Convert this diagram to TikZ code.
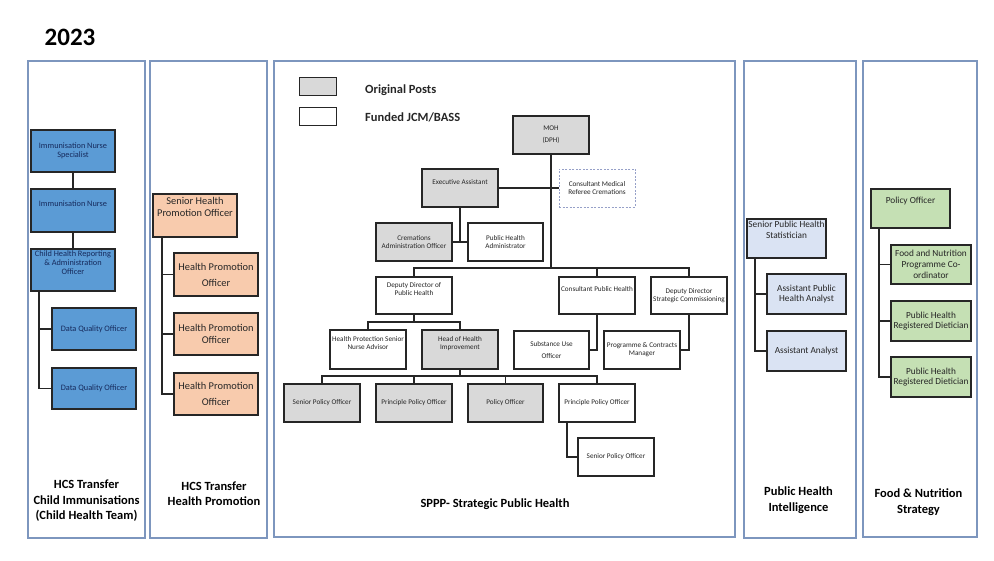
\documentclass[tikz,border=0pt]{standalone}
\usepackage{fontspec}
\setmainfont{Carlito}
\definecolor{pborder}{RGB}{125,150,190}
\definecolor{iblue}{RGB}{91,155,213}
\definecolor{peach}{RGB}{248,203,173}
\definecolor{pgrey}{RGB}{217,217,217}
\definecolor{lblue}{RGB}{218,227,243}
\definecolor{lgreen}{RGB}{197,224,180}
\definecolor{navy}{RGB}{22,42,92}
\definecolor{dashc}{RGB}{150,160,200}
\definecolor{ink}{RGB}{38,38,38}
\newcommand\fsA{\fontsize{8.3}{9.2}\selectfont}
\newcommand\fsB{\fontsize{10.4}{11.5}\selectfont}
\newcommand\fsC{\fontsize{7.2}{8}\selectfont}
\newcommand\fsD{\fontsize{9.3}{10.8}\selectfont}
\newcommand\fsL{\fontsize{12.5}{15.5}\selectfont\bfseries}
\newcommand\fsLg{\fontsize{12.5}{14}\selectfont\bfseries}
\newcommand\fsT{\fontsize{25}{28}\selectfont\bfseries}
\newcommand\bx[7]{\node[#6,minimum width={(#4-#2)*1pt},minimum height={(#5-#3)*1pt}] (#1) at ({(#2+#4)/2},{(#3+#5)/2}) {#7};}
\begin{document}
\begin{tikzpicture}[x=1pt,y=-1pt,
  panel/.style={draw=pborder,line width=1.3pt,fill=white,inner sep=0pt,outer sep=0pt},
  box/.style={draw=ink,line width=1.2pt,inner sep=0.5pt,outer sep=0pt,align=center,text=ink},
  b1/.style={box,fill=iblue,text=navy,font=\fsA},
  b2/.style={box,fill=peach,font=\fsB},
  b3g/.style={box,fill=pgrey,font=\fsC},
  b3w/.style={box,fill=white,font=\fsC},
  b4/.style={box,fill=lblue,font=\fsD},
  b5/.style={box,fill=lgreen,font=\fsD},
  tl/.style={anchor=north,align=center,inner sep=0pt,text=ink},
  conn/.style={draw=ink,line width=1.2pt},
  plabel/.style={font=\fsL,align=center,text=black}]
\fill[white] (0,0) rectangle (994,561);
\useasboundingbox (0,0) rectangle (994,561);

% panels
\bx{p1}{28}{61}{145}{538}{panel}{}
\bx{p2}{150}{61}{267}{538}{panel}{}
\bx{p3}{274}{61}{735}{537}{panel}{}
\bx{p4}{744}{61}{856}{538}{panel}{}
\bx{p5}{863}{61}{977}{537}{panel}{}

\node[font=\fsT] (title) at (70,37) {2023};

% panel 1
\bx{ins}{31}{130}{115}{172}{b1}{Immunisation Nurse\\Specialist}
\bx{in}{31}{189}{115}{232}{b1,label={[tl,font=\fsA,text=navy,yshift=-11.5pt]north:Immunisation Nurse}}{}
\bx{chr}{31}{249}{115}{291}{b1,label={[tl,font=\fsA,text=navy,yshift=-1.5pt]north:Child Health Reporting\\\& Administration\\Officer}}{}
\bx{dq1}{52}{308}{136}{350}{b1}{Data Quality Officer}
\bx{dq2}{52}{368}{136}{409}{b1}{Data Quality Officer}
\draw[conn] (ins) -- (in);
\draw[conn] (in) -- (chr);
\coordinate (v1) at ([xshift=8pt]chr.south west);
\draw[conn] (v1) |- (dq2.west);
\draw[conn] (v1 |- dq1.west) -- (dq1.west);

% panel 2
\bx{shpo}{153}{194}{237}{237}{b2,label={[tl,font=\fsB,yshift=-3.5pt]north:Senior Health\\Promotion Officer}}{}
\bx{hpo1}{174}{253}{258}{296}{b2}{Health Promotion\\[4.5pt]Officer}
\bx{hpo2}{174}{313}{258}{355}{b2}{Health Promotion\\Officer}
\bx{hpo3}{174}{373}{258}{415}{b2}{Health Promotion\\[4.5pt]Officer}
\coordinate (v2) at ([xshift=9pt]shpo.south west);
\draw[conn] (v2) |- (hpo3.west);
\draw[conn] (v2 |- hpo1.west) -- (hpo1.west);
\draw[conn] (v2 |- hpo2.west) -- (hpo2.west);

% panel 3 legend
\bx{lg}{299}{78}{336}{96}{box,fill=pgrey,line width=1pt}{}
\bx{lw}{299}{108}{336}{126}{box,fill=white,line width=1pt}{}
\node[font=\fsLg,anchor=west,text=ink,inner sep=0pt] (lgt) at (365,90) {Original Posts};
\node[font=\fsLg,anchor=west,text=ink,inner sep=0pt] (lwt) at (365,117) {Funded JCM/BASS};

% panel 3 chart
\bx{moh}{513}{116}{589}{154}{b3g}{MOH\\[4pt](DPH)}
\bx{ea}{422}{169}{498}{207}{b3g,label={[tl,font=\fsC,yshift=-10.5pt]north:Executive Assistant}}{}
\bx{cmrc}{559}{169}{635}{207}{box,draw=dashc,dash pattern=on 2pt off 1.5pt,line width=0.7pt,fill=white,font=\fsC}{Consultant Medical\\Referee Cremations}
\bx{cao}{376}{223}{452}{261}{b3g}{Cremations\\Administration Officer}
\bx{pha}{468}{223}{543}{261}{b3w}{Public Health\\Administrator}
\bx{ddph}{376}{277}{452}{314}{b3w,label={[tl,font=\fsC,yshift=-5.5pt]north:Deputy Director of\\Public Health}}{}
\bx{cph}{559}{277}{635}{314}{b3w,label={[tl,font=\fsC,yshift=-9.5pt]north:Consultant Public Health}}{}
\bx{ddsc}{651}{277}{727}{314}{b3w}{Deputy Director\\Strategic Commissioning}
\bx{hpsna}{330}{330}{406}{369}{b3w,label={[tl,font=\fsC,yshift=-6.5pt]north:Health Protection Senior\\Nurse Advisor}}{}
\bx{hohi}{422}{330}{498}{369}{b3g,label={[tl,font=\fsC,yshift=-6.5pt]north:Head of Health\\Improvement}}{}
\bx{suo}{514}{331}{589}{369}{b3w}{Substance Use\\[4pt]Officer}
\bx{pcm}{604}{331}{680}{369}{b3w}{Programme \& Contracts\\Manager}
\bx{spo1}{284}{384}{360}{422}{b3g}{Senior Policy Officer}
\bx{ppo1}{376}{384}{452}{422}{b3g}{Principle Policy Officer}
\bx{po}{468}{384}{543}{422}{b3g}{Policy Officer}
\bx{ppo2}{559}{384}{635}{422}{b3w}{Principle Policy Officer}
\bx{spo2}{578}{438}{654}{476}{b3w}{Senior Policy Officer}

\coordinate (bar) at ([yshift=9pt]ddph.north);
\draw[conn] (moh.south) -- (moh.south |- bar);
\draw[conn] (ea.east) -- (cmrc.west);
\draw[conn] (ea.south) -- (ea.south |- cao.east);
\draw[conn] (cao.east) -- (pha.west);
\draw[conn] (ddph.north) -- (bar) -| (ddsc.north);
\draw[conn] (cph.north) -- (cph.north |- bar);
\coordinate (j2) at ([yshift=8pt]hpsna.north);
\draw[conn] (ddph.south) -- (ddph.south |- j2);
\draw[conn] (hpsna.north) -- (j2) -| (hohi.north);
\coordinate (j3) at ([yshift=8pt]spo1.north);
\draw[conn] (hohi.south) -- (hohi.south |- j3);
\draw[conn] (spo1.north) -- (j3) -| (ppo2.north);
\draw[conn] (ppo1.north) -- (ppo1.north |- j3);
\draw[conn] (po.north) -- (po.north |- j3);
\draw[conn] (cph.south) |- (suo.east);
\draw[conn] (ddsc.south) |- (pcm.east);
\coordinate (v3) at ([xshift=8pt]ppo2.south west);
\draw[conn] (v3) |- (spo2.west);

% panel 4
\bx{sphs}{747}{219}{826}{258}{b4,label={[tl,font=\fsD,yshift=-2pt]north:Senior Public Health\\Statistician}}{}
\bx{apha}{767}{274}{846}{314}{b4}{Assistant Public\\Health Analyst}
\bx{aa}{767}{331}{846}{371}{b4}{Assistant Analyst}
\coordinate (v4) at ([xshift=8pt]sphs.south west);
\draw[conn] (v4) |- (aa.west);
\draw[conn] (v4 |- apha.west) -- (apha.west);

% panel 5
\bx{pof}{871}{189}{950}{228}{b5,label={[tl,font=\fsD,yshift=-7.5pt]north:Policy Officer}}{}
\bx{fnpc}{891}{245}{971}{284}{b5}{Food and Nutrition\\Programme Co-\\ordinator}
\bx{phrd1}{891}{301}{971}{341}{b5}{Public Health\\Registered Dietician}
\bx{phrd2}{891}{357}{971}{397}{b5}{Public Health\\Registered Dietician}
\coordinate (v5) at ([xshift=8pt]pof.south west);
\draw[conn] (v5) |- (phrd2.west);
\draw[conn] (v5 |- fnpc.west) -- (fnpc.west);
\draw[conn] (v5 |- phrd1.west) -- (phrd1.west);

% panel labels
\node[plabel] (l1) at (86.5,501) {HCS Transfer\\Child Immunisations\\(Child Health Team)};
\node[plabel] (l2) at (214,493.5) {HCS Transfer\\Health Promotion};
\node[plabel] (l3) at (495,504) {SPPP- Strategic Public Health};
\node[plabel] (l4) at (798.5,500) {Public Health\\Intelligence};
\node[plabel] (l5) at (918.5,502) {Food \& Nutrition\\Strategy};
\end{tikzpicture}
\end{document}
